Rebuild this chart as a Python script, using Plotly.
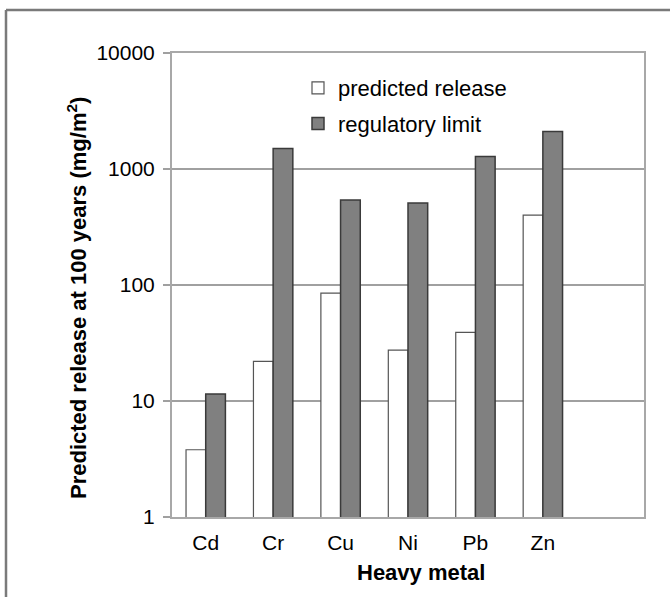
import plotly.graph_objects as go

metals = ["Cd", "Cr", "Cu", "Ni", "Pb", "Zn"]
predicted_release = [3.8, 22, 85, 27.5, 39, 400]
regulatory_limit = [11.5, 1500, 540, 510, 1280, 2100]
y_tick_vals = [1, 10, 100, 1000, 10000]
y_tick_text = ["1", "10", "100", "1000", "10000"]

FONT = "Liberation Sans, Arial, sans-serif"

fig = go.Figure()
fig.add_trace(go.Bar(
    x=metals, y=predicted_release, name="predicted release",
    marker=dict(color="white", line=dict(color="#555555", width=1.2)),
    legendgroup="a",
))
fig.add_trace(go.Bar(
    x=metals, y=regulatory_limit, name="regulatory limit",
    marker=dict(color="#808080", line=dict(color="#3a3a3a", width=1.5)),
    legendgroup="b",
))

W, H = 670, 597
L, R, T, B = 172, 644, 53, 517
pw, ph = R - L, B - T

def px(x):
    return (x - L) / pw

def py(y):
    return (B - y) / ph

fig.update_layout(
    width=W, height=H,
    margin=dict(l=L, r=W - R, t=T, b=H - B),
    paper_bgcolor="white", plot_bgcolor="white",
    barmode="group", bargap=0.416, bargroupgap=0,
    font=dict(family=FONT, size=21, color="#000000"),
    showlegend=True,
    legend=dict(
        x=px(298), y=py(67), xanchor="left", yanchor="top",
        bgcolor="rgba(0,0,0,0)", font=dict(size=22, family=FONT, color="#000000"),
        tracegroupgap=4, traceorder="grouped",
    ),
    xaxis=dict(
        type="category", categoryorder="array", categoryarray=metals,
        range=[-0.5, 6.5], showgrid=False,
        showline=True, mirror=True, linecolor="#a8a8a8", linewidth=2,
        ticks="", ticklabelstandoff=6,
        tickfont=dict(size=21, family=FONT, color="#000000"),
    ),
    yaxis=dict(
        type="log", range=[0, 4],
        tickvals=y_tick_vals, ticktext=y_tick_text,
        showgrid=True, gridcolor="#a0a0a0", gridwidth=2,
        showline=True, mirror=True, linecolor="#a8a8a8", linewidth=2,
        ticks="outside", ticklen=7, tickcolor="#a0a0a0", tickwidth=2,
        ticklabelstandoff=4,
        tickfont=dict(size=21, family=FONT, color="#000000"),
        zeroline=False,
    ),
    annotations=[
        dict(text="<b>Heavy metal</b>", x=px(421), y=py(572), xref="paper", yref="paper",
             xanchor="center", yanchor="middle", showarrow=False,
             font=dict(size=22, family=FONT, color="#000000")),
        dict(text="<b>Predicted release at 100 years (mg/m<sup>2</sup>)</b>",
             x=px(77), y=py(298), xref="paper", yref="paper",
             xanchor="center", yanchor="middle", textangle=-90, showarrow=False,
             font=dict(size=22, family=FONT, color="#000000")),
    ],
    shapes=[
        dict(type="line", xref="paper", yref="paper",
             x0=px(6), x1=px(6), y0=py(597), y1=py(10),
             line=dict(color="#7a7a7a", width=2.5), layer="below"),
        dict(type="line", xref="paper", yref="paper",
             x0=px(6), x1=px(670), y0=py(10), y1=py(10),
             line=dict(color="#7a7a7a", width=2.5), layer="below"),
    ],
)

fig.write_html("out.html")
